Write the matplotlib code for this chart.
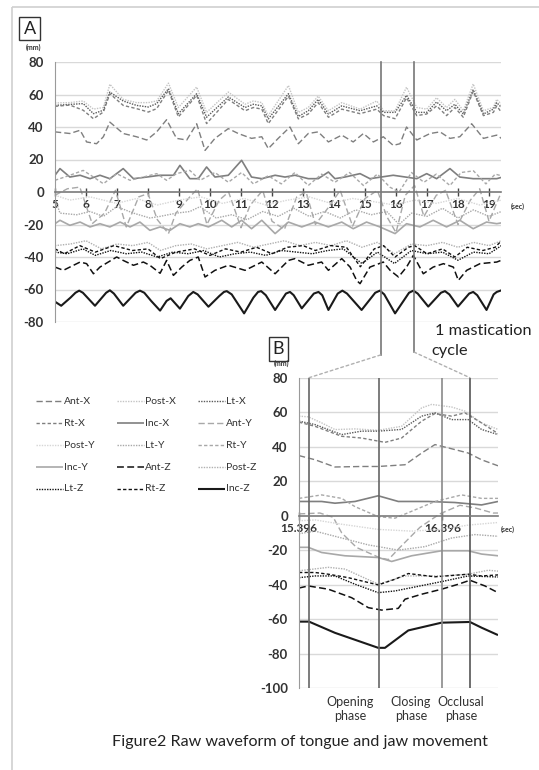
import matplotlib
matplotlib.use("Agg")
import matplotlib.pyplot as plt
from matplotlib.patches import ConnectionPatch, Rectangle

plt.rcParams['font.family'] = ['Lato', 'DejaVu Sans']
plt.rcParams['axes.unicode_minus'] = False

# ---------------- data : panel A (time in sec, value in mm) ----------------
a_ant_x = [(5.0, 37), (5.48, 36), (5.81, 38), (6.02, 30.8), (6.34, 29.7), (6.56, 34), (6.77, 43), (7.2, 36),
           (7.63, 34), (7.96, 32), (8.28, 37), (8.6, 44.5), (8.92, 33), (9.25, 32), (9.57, 42), (9.84, 25.6),
           (10.16, 33), (10.59, 39), (10.91, 36), (11.34, 33), (11.67, 34), (11.88, 26.7), (12.2, 33),
           (12.58, 40), (12.85, 29.7), (13.17, 36), (13.49, 37), (13.82, 30.8), (14.25, 35), (14.62, 30.8),
           (14.95, 36), (15.27, 30.8), (15.59, 34), (15.91, 28.7), (16.13, 29.7), (16.34, 40), (16.67, 32),
           (17.1, 36), (17.42, 37), (17.74, 33), (18.06, 34), (18.44, 42), (18.82, 33), (19.25, 35), (19.4, 33)]
a_post_x = [(5.0, 54.8), (5.48, 55), (5.91, 56), (6.24, 51), (6.56, 52), (6.77, 66.3), (7.2, 57), (7.63, 55),
            (8.01, 55), (8.28, 56), (8.66, 67), (8.98, 52), (9.57, 64.6), (9.89, 49), (10.59, 61.5), (11.13, 54),
            (11.4, 56), (11.67, 55), (11.88, 47), (12.53, 65.5), (12.85, 49), (13.17, 52), (13.49, 59),
            (13.82, 50), (14.25, 55), (14.84, 51), (15.38, 56), (15.6, 50), (15.97, 50), (16.34, 64.5),
            (16.67, 52), (16.99, 51), (17.31, 58), (17.63, 52), (17.9, 57), (18.17, 50), (18.49, 66.5),
            (18.82, 50), (19.14, 52), (19.25, 57), (19.4, 54)]
a_lt_x = [(5.0, 53.3), (5.48, 53.9), (5.91, 54.4), (6.24, 48.2), (6.56, 50.3), (6.77, 61.5), (7.2, 56),
          (7.63, 53.3), (8.01, 52.3), (8.28, 54.4), (8.66, 63.6), (8.98, 48.2), (9.57, 60.5), (9.89, 46),
          (10.59, 58.5), (11.13, 52), (11.4, 54), (11.67, 53), (11.88, 45), (12.53, 60.5), (12.85, 46.5),
          (13.17, 50), (13.49, 57), (13.82, 48), (14.25, 53), (14.84, 50), (15.38, 53), (15.6, 49), (15.97, 49),
          (16.34, 59.5), (16.67, 49), (16.99, 49), (17.31, 55.4), (17.63, 50), (17.9, 54), (18.17, 48),
          (18.49, 63), (18.82, 48), (19.14, 51), (19.25, 55), (19.4, 52)]
a_rt_x = [(5.0, 52.7), (5.48, 53.5), (5.91, 50.3), (6.24, 45.1), (6.56, 49.2), (6.77, 60.5), (7.2, 53.3),
          (7.63, 51.3), (8.01, 49.2), (8.28, 51.3), (8.66, 62.6), (8.98, 46.2), (9.57, 59.5), (9.89, 42.1),
          (10.59, 57), (11.13, 50), (11.4, 52), (11.67, 51), (11.88, 42.1), (12.53, 59), (12.85, 45),
          (13.17, 48), (13.49, 55), (13.82, 46), (14.25, 51), (14.84, 48.2), (15.38, 51), (15.6, 47),
          (15.97, 45.1), (16.34, 58), (16.67, 47), (16.99, 48), (17.31, 53), (17.63, 47), (17.9, 52),
          (18.17, 46), (18.49, 62), (18.82, 47), (19.14, 49), (19.25, 53), (19.4, 49)]
a_inc_x = [(5.0, 10.3), (5.16, 14.4), (5.48, 9.2), (5.81, 10.3), (6.13, 8.2), (6.45, 10.3), (6.77, 8.2),
           (7.2, 14.4), (7.53, 8.2), (7.96, 9.2), (8.39, 10.3), (8.82, 10.3), (9.03, 16.4), (9.35, 8.2),
           (9.62, 8.2), (9.89, 15.4), (10.16, 9.2), (10.59, 10.3), (11.02, 19.5), (11.34, 9.2), (11.67, 8.2),
           (12.1, 10.3), (12.42, 9.2), (12.74, 10.3), (13.17, 8.2), (13.49, 8.2), (13.82, 12.3), (14.03, 8.2),
           (14.35, 9.2), (14.84, 11.3), (15.16, 8.2), (15.91, 10.3), (16.67, 8.2), (16.99, 11.3), (17.31, 8.2),
           (17.74, 14.4), (18.06, 9.2), (18.49, 8.2), (19.25, 8.2), (19.4, 9)]
a_ant_y = [(5.0, -2), (5.4, 2), (5.8, 3), (6.2, -19.5), (6.6, -13), (6.95, 1), (7.3, -21.5), (7.7, -3),
           (8.0, -1), (8.3, -17), (8.66, -25.6), (8.9, -13), (9.35, -3), (9.6, 2), (9.9, -20), (10.3, -5),
           (10.6, 0), (11.0, -22), (11.3, -8), (11.7, 1), (12.0, -18), (12.4, -23), (12.8, -3), (13.1, 0),
           (13.4, -20), (13.8, -10), (14.2, 1), (14.6, -21), (15.0, -4), (15.4, 1), (15.7, -15), (16.0, -25),
           (16.3, -2), (16.6, 4), (16.9, -15), (17.3, -2), (17.6, 1), (18.0, -20), (18.4, -5), (18.7, 2),
           (19.0, -18), (19.4, 0)]
a_post_y = [(5.0, -2), (5.48, -5), (6.13, -3), (6.99, -7), (7.63, -4), (8.3, -8), (9.0, -5), (9.7, -3),
            (10.4, -7), (11.1, -4), (11.8, -8), (12.5, -5), (13.2, -3), (13.9, -7), (14.6, -4), (15.3, -6),
            (15.95, -8), (16.6, -5), (17.3, -7), (18.0, -4), (18.7, -8), (19.4, -5)]
a_lt_y = [(5.0, -4), (5.16, -13), (5.7, -14), (6.13, -12), (6.56, -15), (6.99, -9), (7.53, -13), (8.06, -16),
          (8.39, -15), (8.92, -13), (9.35, -12), (9.68, -9), (10.2, -16), (10.7, -14), (11.2, -17), (11.7, -12),
          (12.2, -15), (12.7, -10), (13.2, -15), (13.7, -12), (14.2, -16), (14.7, -11), (15.2, -14), (15.7, -12),
          (16.1, -20), (16.5, -13), (17.0, -15), (17.5, -10), (18.0, -16), (18.5, -11), (19.0, -15), (19.4, -12)]
a_rt_y = [(5.0, 7.2), (5.48, 10.3), (5.91, 13.3), (6.24, 9.2), (6.56, 5.1), (6.99, 11.3), (7.42, 7.2),
          (7.85, 9.2), (8.28, 11.3), (8.6, 7.2), (8.92, 11.3), (9.35, 13.3), (9.68, 7.2), (10.16, 12),
          (10.59, 6), (11.02, 12), (11.4, 5), (11.88, 10), (12.3, 5), (12.74, 12), (13.17, 4), (13.6, 11),
          (14.03, 6), (14.5, 12), (14.95, 4), (15.4, 11), (15.8, 3), (16.1, 0), (16.5, 12), (16.9, 6),
          (17.3, 11), (17.74, 4), (18.1, 12), (18.5, 13), (18.9, 5), (19.2, 11), (19.4, 10)]
a_inc_y = [(5.0, -19.5), (5.16, -17.4), (5.48, -20.5), (5.81, -18.5), (6.13, -21.5), (6.45, -19.5),
           (6.77, -21.5), (7.1, -18.5), (7.42, -21.5), (7.74, -18.5), (8.06, -23.6), (8.39, -21.5),
           (8.71, -23.6), (9.03, -19.5), (9.35, -21.5), (9.62, -19.5), (9.95, -21.5), (10.38, -17.4),
           (10.7, -21.5), (11.02, -17.4), (11.34, -22.6), (11.67, -17.4), (12.1, -25.6), (12.53, -18.5),
           (12.96, -21.5), (13.39, -18.5), (13.82, -21.5), (14.25, -18.5), (14.62, -22.6), (15.05, -18.5),
           (15.48, -21.5), (15.97, -25.6), (16.34, -19.5), (16.77, -21.5), (17.2, -17.4), (17.63, -21.5),
           (18.06, -17.4), (18.49, -22.6), (18.92, -18.5), (19.25, -19.5), (19.4, -19)]
a_ant_z = [(5.0, -46.2), (5.27, -48.2), (5.48, -46.2), (5.81, -43.1), (6.02, -44.1), (6.24, -50.3),
           (6.45, -46.2), (6.99, -40), (7.2, -42.1), (7.53, -45.1), (7.85, -43.1), (8.06, -45.1), (8.39, -50),
           (8.6, -42.1), (8.82, -51.3), (9.09, -46.2), (9.35, -42.1), (9.62, -40), (9.84, -52.3),
           (10.16, -48.2), (10.59, -45.1), (11.13, -48.2), (11.67, -43.1), (12.1, -50.3), (12.53, -42.1),
           (12.74, -41), (13.17, -45.1), (13.6, -43.1), (13.82, -48.2), (14.25, -41), (14.52, -46.2),
           (14.73, -54.4), (14.84, -56.4), (15.16, -46.2), (15.59, -43.1), (15.81, -48.2), (16.08, -52.3),
           (16.34, -46.2), (16.56, -39), (16.88, -50.3), (17.2, -46.2), (17.53, -44.1), (17.85, -46.2),
           (18.01, -54.4), (18.28, -48.2), (18.71, -44.1), (19.25, -43.1), (19.4, -42)]
a_post_z = [(5.0, -33), (5.5, -32), (6.0, -30), (6.5, -35), (7.0, -32), (7.5, -33), (8.0, -31), (8.4, -36),
            (8.9, -33), (9.4, -32), (9.9, -35), (10.4, -33), (10.9, -31), (11.4, -34), (11.9, -32), (12.4, -30),
            (12.9, -33), (13.4, -31), (13.9, -33), (14.4, -30), (14.9, -34), (15.4, -31), (15.95, -38),
            (16.5, -32), (17.0, -33), (17.5, -31), (18.0, -34), (18.5, -31), (19.0, -33), (19.4, -30)]
a_lt_z = [(5.0, -37), (5.4, -38), (5.9, -35), (6.3, -39), (6.8, -36), (7.3, -38), (7.8, -37), (8.3, -40),
          (8.8, -37), (9.3, -38), (9.8, -36), (10.3, -40), (10.8, -38), (11.3, -37), (11.8, -39), (12.3, -36),
          (12.8, -37), (13.3, -38), (13.8, -36), (14.3, -35), (14.9, -44), (15.4, -37), (15.95, -44),
          (16.5, -36), (17.0, -38), (17.5, -37), (18.0, -42), (18.5, -37), (19.0, -38), (19.4, -33)]
a_rt_z = [(5.0, -35), (5.3, -38), (5.8, -33), (6.3, -37), (6.9, -33), (7.5, -36), (8.0, -35), (8.4, -41),
          (8.9, -37), (9.5, -35), (10.0, -39), (10.5, -35), (11.0, -37), (11.5, -34), (12.0, -38), (12.5, -34),
          (13.0, -33), (13.4, -36), (13.9, -33), (14.4, -34), (14.85, -46), (15.3, -35), (15.6, -33),
          (15.97, -40), (16.4, -34), (16.6, -33), (17.0, -38), (17.5, -35), (17.9, -40), (18.3, -34),
          (18.8, -36), (19.2, -34), (19.4, -30)]
a_inc_z = [(5.0, -67.5), (5.2, -70), (5.5, -65), (5.66, -62), (5.78, -60.7), (5.9, -62), (6.29, -70),
           (6.65, -62), (6.77, -60.5), (6.9, -62.5), (7.2, -70), (7.6, -62), (7.74, -60.7), (7.88, -62),
           (8.1, -67), (8.39, -73), (8.6, -67), (8.73, -65.4), (9.03, -71.8), (9.3, -64), (9.46, -61.5),
           (9.6, -63), (9.95, -70.6), (10.3, -64), (10.45, -61.5), (10.54, -61), (10.7, -63), (11.1, -74.7),
           (11.4, -65), (11.55, -61.5), (11.65, -61), (11.8, -63.5), (12.1, -72.6), (12.45, -62.5),
           (12.58, -61.5), (12.7, -63.5), (12.96, -71.6), (13.35, -62.5), (13.5, -61.5), (13.62, -63.5),
           (13.82, -72.6), (14.12, -62.5), (14.27, -60.7), (14.42, -62.5), (14.89, -72.6), (15.33, -62),
           (15.48, -60.7), (15.62, -63), (15.97, -74.7), (16.42, -62), (16.56, -60.7), (16.7, -62.5),
           (17.04, -70.5), (17.45, -62), (17.58, -61), (17.72, -63), (18.0, -70.5), (18.36, -62.5),
           (18.49, -61.5), (18.62, -63.5), (18.92, -72.6), (19.15, -63), (19.25, -61.5), (19.4, -60.5)]

# ---------------- data : panel B (one mastication cycle) ----------------
b_ant_x = [(15.396, 34.8), (15.508, 32.4), (15.647, 28.2), (15.833, 28.5), (15.949, 28.5), (16.136, 29.5),
           (16.252, 36.3), (16.345, 41.2), (16.484, 38.3), (16.577, 36.3), (16.670, 32.4), (16.785, 28.9)]
b_post_x = [(15.396, 57.7), (15.461, 57.3), (15.554, 53.8), (15.647, 49.9), (15.787, 50.3), (15.949, 49.5),
            (16.112, 51.8), (16.252, 62.5), (16.322, 64.5), (16.461, 63), (16.554, 60.6), (16.670, 53.8),
            (16.785, 50)]
b_lt_x = [(15.396, 54.8), (15.508, 52.8), (15.694, 47), (15.833, 49), (15.949, 49), (16.112, 50),
          (16.252, 57.7), (16.345, 59.6), (16.461, 55.7), (16.577, 55.7), (16.670, 50), (16.785, 47)]
b_rt_x = [(15.396, 54.2), (15.508, 51.8), (15.694, 46), (15.833, 45), (15.996, 42.5), (16.112, 45),
          (16.252, 54.8), (16.345, 59.2), (16.461, 57.7), (16.554, 59.6), (16.670, 53.8), (16.785, 47.6)]
b_inc_x = [(15.396, 8.2), (15.554, 8.2), (15.647, 7.2), (15.787, 8.2), (15.949, 11.5), (16.089, 8.2),
           (16.298, 8.2), (16.484, 7.6), (16.670, 6.2), (16.785, 8.2)]
b_ant_y = [(15.396, 1), (15.542, 1.5), (15.635, -1), (15.694, -10), (15.798, -18.5), (15.961, -24.5),
           (16.02, -25.5), (16.1, -18.5), (16.24, -6.8), (16.379, 1), (16.519, 6), (16.624, 4.5),
           (16.751, 1.5), (16.785, 1.5)]
b_post_y = [(15.396, -3), (15.508, -2.5), (15.694, -5), (15.949, -8), (16.182, -9), (16.391, -8),
            (16.577, -5.5), (16.785, -4)]
b_lt_y = [(15.396, -10.5), (15.508, -9), (15.694, -13), (15.880, -17), (16.089, -20), (16.275, -18),
          (16.461, -13), (16.624, -11), (16.785, -12)]
b_rt_y = [(15.396, 10), (15.554, 12), (15.694, 10), (15.787, 5.2), (15.949, -0.6), (16.066, -1.5),
          (16.205, 3.3), (16.345, 8.2), (16.531, 12), (16.670, 10), (16.785, 10)]
b_inc_y = [(15.396, -18.4), (15.461, -18.4), (15.554, -21.4), (15.717, -23.3), (15.949, -24.3),
           (16.043, -26.6), (16.182, -23.3), (16.391, -20.4), (16.577, -20.4), (16.670, -22.3), (16.785, -23.3)]
b_ant_z = [(15.396, -42), (15.461, -40.8), (15.601, -42.7), (15.763, -47.6), (15.880, -53.4), (15.973, -54.8),
           (16.089, -53.8), (16.136, -48.5), (16.252, -45.6), (16.391, -42.7), (16.508, -39.8), (16.589, -37.5),
           (16.694, -40.8), (16.785, -44.7)]
b_post_z = [(15.396, -32), (15.601, -30), (15.717, -31), (15.949, -39.8), (16.136, -35), (16.391, -35),
            (16.577, -34), (16.717, -31.7), (16.785, -32.2)]
b_lt_z = [(15.396, -36), (15.508, -35), (15.647, -35), (15.787, -39.8), (15.949, -44.7), (16.066, -43.7),
          (16.205, -41.4), (16.391, -38.3), (16.577, -35), (16.785, -35.6)]
b_rt_z = [(15.396, -33), (15.508, -33), (15.601, -34), (15.740, -36), (15.949, -40.2), (16.066, -36.9),
          (16.159, -33.6), (16.345, -35.5), (16.577, -34), (16.670, -35), (16.785, -34.4)]
b_inc_z = [(15.396, -61.5), (15.466, -61.5), (15.647, -68), (15.949, -76.7), (15.996, -76.7), (16.159, -66.6),
           (16.391, -62.1), (16.589, -61.7), (16.670, -65), (16.785, -69.3)]

names = ['Ant-X', 'Post-X', 'Lt-X', 'Rt-X', 'Inc-X', 'Ant-Y', 'Post-Y', 'Lt-Y', 'Rt-Y', 'Inc-Y',
         'Ant-Z', 'Post-Z', 'Lt-Z', 'Rt-Z', 'Inc-Z']
series_a = [a_ant_x, a_post_x, a_lt_x, a_rt_x, a_inc_x, a_ant_y, a_post_y, a_lt_y, a_rt_y, a_inc_y,
            a_ant_z, a_post_z, a_lt_z, a_rt_z, a_inc_z]
series_b = [b_ant_x, b_post_x, b_lt_x, b_rt_x, b_inc_x, b_ant_y, b_post_y, b_lt_y, b_rt_y, b_inc_y,
            b_ant_z, b_post_z, b_lt_z, b_rt_z, b_inc_z]

a_ticks = list(range(5, 20))
b_ticks = [15.396, 16.396]
a_marks = [15.5, 16.58]                     # cycle shown in A
b_marks = [15.466, 15.956, 16.391, 16.589]  # phase borders in B
phases = ['Opening\nphase', 'Closing\nphase', 'Occlusal\nphase']
phase_x = [15.752, 16.177, 16.526]

# line styles
LONG, MED, DOT = (4.5, 2.2), (2.4, 1.6), (1.0, 0.9)
styles = {
    'Ant-X': ('#7f7f7f', LONG, 1.0), 'Post-X': ('#c4c4c4', DOT, 1.0), 'Lt-X': ('#5a5a5a', DOT, 1.0),
    'Rt-X': ('#7f7f7f', MED, 1.0), 'Inc-X': ('#7f7f7f', None, 1.2), 'Ant-Y': ('#a8a8a8', LONG, 1.0),
    'Post-Y': ('#d6d6d6', DOT, 1.0), 'Lt-Y': ('#a8a8a8', DOT, 1.0), 'Rt-Y': ('#a8a8a8', MED, 1.0),
    'Inc-Y': ('#a8a8a8', None, 1.2), 'Ant-Z': ('#111111', LONG, 1.1), 'Post-Z': ('#b0b0b0', DOT, 1.0),
    'Lt-Z': ('#111111', DOT, 1.0), 'Rt-Z': ('#111111', MED, 1.0), 'Inc-Z': ('#1a1a1a', None, 1.5),
}
TXT = '#333333'
GRID = '#d9d9d9'


def draw_line(ax, xs, ys, name, **kw):
    c, d, lw = styles[name]
    ln, = ax.plot(xs, ys, color=c, lw=lw, solid_capstyle='butt', solid_joinstyle='round', **kw)
    if d is not None:
        ln.set_dashes(d)
    return ln


W, H = 539, 770
fig = plt.figure(figsize=(W / 100, H / 100), dpi=100)


def px_axes(l, t, r, b):
    return fig.add_axes([l / W, 1 - b / H, (r - l) / W, (b - t) / H])


def style_axes(ax, ymin, ymax, xticks, xlabels):
    ax.set_ylim(ymin, ymax)
    ax.set_yticks(range(ymin, ymax + 1, 20))
    for y in range(ymin, ymax + 1, 20):
        if y != 0:
            ax.axhline(y, color=GRID, lw=1, zorder=0)
    for s in ['top', 'right']:
        ax.spines[s].set_visible(False)
    ax.spines['left'].set_color('#9a9a9a')
    ax.spines['bottom'].set_position(('data', 0))
    ax.spines['bottom'].set_color('#7a7a7a')
    ax.spines['bottom'].set_linewidth(1.2)
    ax.set_xticks(xticks)
    ax.set_xticklabels(xlabels)
    ax.tick_params(axis='y', length=0, pad=8, labelsize=9.5, labelcolor=TXT)
    ax.tick_params(axis='x', direction='inout', length=6, width=1, color='#444444', pad=2,
                   labelsize=8.5, labelcolor=TXT)
    for lab in ax.get_xticklabels() + ax.get_yticklabels():
        lab.set_fontweight('bold')
    ax.set_facecolor('none')


# ---------------- panel A ----------------
axA = px_axes(55, 62, 501, 322)
for name, pts in zip(names, series_a):
    draw_line(axA, [p[0] for p in pts], [p[1] for p in pts], name)
axA.set_xlim(5, 19.387)
style_axes(axA, -80, 80, a_ticks, [str(t) for t in a_ticks])
axA.plot([a_marks[0]] * 2, [80, -100.3], color='#777777', lw=1.2, clip_on=False)
axA.plot([a_marks[1]] * 2, [80, -98.5], color='#777777', lw=1.2, clip_on=False)

# ---------------- panel B ----------------
axB = px_axes(299, 377.7, 498, 688)
for name, pts in zip(names, series_b):
    draw_line(axB, [p[0] for p in pts], [p[1] for p in pts], name)
axB.set_xlim(15.396, 16.785)
style_axes(axB, -100, 80, b_ticks, [f'{t:.3f}' for t in b_ticks])
for x, c in zip(b_marks, ['#666666', '#666666', '#8a8a8a', '#555555']):
    axB.axvline(x, color=c, lw=1.2)

for xa, ya, xb in [(a_marks[0], -100.3, b_marks[0]), (a_marks[1], -98.5, b_marks[3])]:
    con = ConnectionPatch(xyA=(xa, ya), coordsA=axA.transData, xyB=(xb, 80), coordsB=axB.transData,
                          color='#b0b0b0', lw=1, linestyle=(0, (2, 2)))
    fig.add_artist(con)

for xm, lab in zip(phase_x, phases):
    axB.text(xm, -104.5, lab, fontsize=9, ha='center', va='top', color=TXT, linespacing=1.25)

# ---------------- overlay in pixel coordinates ----------------
ov = fig.add_axes([0, 0, 1, 1], zorder=-1)
ov.set_xlim(0, W)
ov.set_ylim(H, 0)
ov.axis('off')
ov.add_patch(Rectangle((12, 7), 540, 780, fill=False, ec='#d0d0d0', lw=1.2))

ov2 = fig.add_axes([0, 0, 1, 1], zorder=5)
ov2.set_xlim(0, W)
ov2.set_ylim(H, 0)
ov2.axis('off')
ov2.patch.set_alpha(0)

box = dict(boxstyle='square,pad=0.22', fc='white', ec='#333333', lw=1)
ov2.text(29.5, 28.5, 'A', fontsize=13, ha='center', va='center', color='#222222', bbox=box)
ov2.text(278.5, 349, 'B', fontsize=13, ha='center', va='center', color='#222222', bbox=box)
ov2.text(34, 47, '(mm)', fontsize=5, ha='center', va='center', color=TXT, fontweight='bold')
ov2.text(281, 363, '(mm)', fontsize=5, ha='center', va='center', color=TXT, fontweight='bold')
ov2.text(518, 206, '(sec)', fontsize=5, ha='center', va='center', color=TXT, fontweight='bold')
ov2.text(508, 529, '(sec)', fontsize=5, ha='center', va='center', color=TXT, fontweight='bold')
ov2.text(435, 331, '1 mastication', fontsize=11.8, ha='left', va='center', color='#222222')
ov2.text(431, 351, 'cycle', fontsize=11.8, ha='left', va='center', color='#222222')

# legend, 5 rows x 3 columns
col_x = [36, 117, 198]
row_y = [401, 423, 445, 467, 488.5]
for i, name in enumerate(names):
    x0 = col_x[i % 3]
    y0 = row_y[i // 3]
    draw_line(ov2, [x0, x0 + 27], [y0, y0], name)
    ov2.text(x0 + 28, y0, name, fontsize=7.5, ha='left', va='center', color=TXT)

ov2.text(300, 742, 'Figure2 Raw waveform of tongue and jaw movement', fontsize=11.6, ha='center',
         va='center', color='#222222')

fig.savefig('out.png', dpi=100)
